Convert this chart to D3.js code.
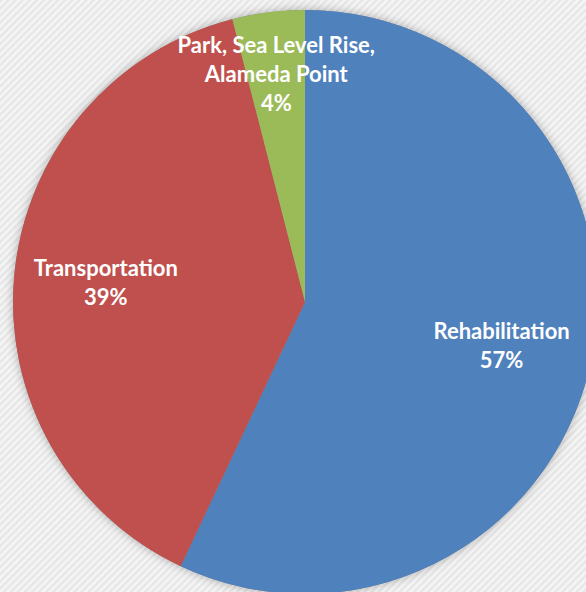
<!DOCTYPE html>
<html>
<head>
<meta charset="utf-8">
<script src="https://cdn.jsdelivr.net/npm/d3@7"></script>
<style>
  html, body { margin: 0; padding: 0; background: #ececec; }
  svg { display: block; }
</style>
</head>
<body>
<svg id="chart" width="586" height="592"></svg>
<script>
// Funding breakdown by program area
const categories = ["Rehabilitation", "Transportation", "Park, Sea Level Rise, Alameda Point"];
const labelLines = [["Rehabilitation"], ["Transportation"], ["Park, Sea Level Rise,", "Alameda Point"]];
const shares = [57, 39, 4];
const colors = ["#4F81BD", "#C0504D", "#9BBB59"];

const W = 586, H = 592;
const cx = 305, cy = 302, R = 292;
// label distance from centre, as a fraction of the radius
const labelRadius = [0.69, 0.685, 0.785];

const svg = d3.select("#chart");
const defs = svg.append("defs");

// light diagonal twill background
const pat = defs.append("pattern")
  .attr("id", "twill")
  .attr("width", 5).attr("height", 5)
  .attr("patternUnits", "userSpaceOnUse")
  .attr("patternTransform", "rotate(45)");
pat.append("rect").attr("width", 5).attr("height", 5).attr("fill", "#f5f5f5");
pat.append("rect").attr("width", 2.4).attr("height", 5).attr("fill", "#e6e6e6");

svg.append("rect").attr("width", W).attr("height", H).attr("fill", "url(#twill)");

// soft shadow round the pie
const f = defs.append("filter").attr("id", "glow")
  .attr("x", "-10%").attr("y", "-10%").attr("width", "120%").attr("height", "120%");
f.append("feDropShadow").attr("dx", 0).attr("dy", 0)
  .attr("stdDeviation", 5).attr("flood-color", "#000").attr("flood-opacity", 0.3);

const pie = d3.pie().sort(null).value(d => d)(shares);
const arc = d3.arc().innerRadius(0).outerRadius(R);

const g = svg.append("g").attr("transform", `translate(${cx},${cy})`);

g.append("circle").attr("r", R).attr("fill", "#888").attr("filter", "url(#glow)");

g.selectAll("path.slice")
  .data(pie)
  .join("path")
  .attr("class", "slice")
  .attr("d", arc)
  .attr("fill", (d, i) => colors[i]);

const fs = 22, lh = 29;
g.selectAll("text.lbl")
  .data(pie)
  .join("text")
  .attr("class", "lbl")
  .attr("text-anchor", "middle")
  .attr("font-family", "Lato, 'Open Sans', sans-serif")
  .attr("font-weight", "bold")
  .attr("font-size", fs)
  .attr("fill", "#ffffff")
  .each(function(d, i) {
    const a = (d.startAngle + d.endAngle) / 2;
    const r = R * labelRadius[i];
    const x = Math.sin(a) * r, y = -Math.cos(a) * r;
    const lines = labelLines[i].concat([d.data + "%"]);
    const top = y - (lines.length - 1) * lh / 2;
    const t = d3.select(this);
    lines.forEach((s, k) => {
      t.append("tspan")
        .attr("x", x)
        .attr("y", top + k * lh)
        .attr("dy", "0.35em")
        .text(s);
    });
  });
</script>
</body>
</html>
